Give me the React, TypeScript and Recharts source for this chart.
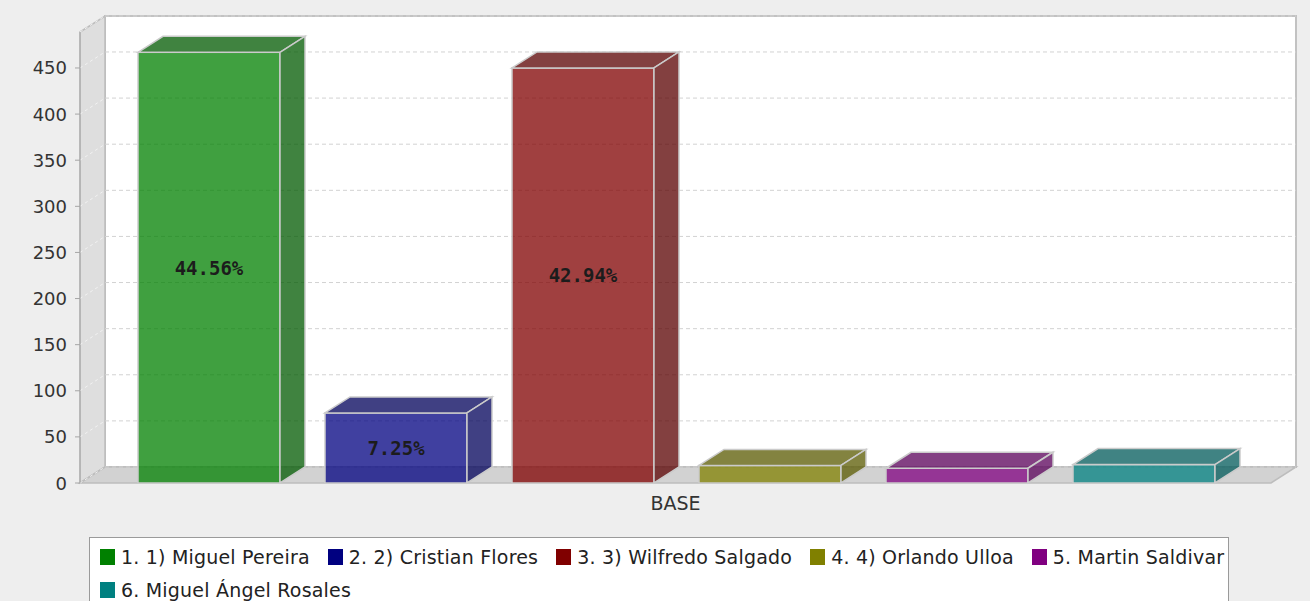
import React from "react"
import { Bar, BarChart, CartesianGrid, LabelList, XAxis, YAxis } from "recharts"

// single category, six candidates drawn as separate series
const categories = ["BASE"]
const seriesNames = [
  "1. 1) Miguel Pereira",
  "2. 2) Cristian Flores",
  "3. 3) Wilfredo Salgado",
  "4. 4) Orlando Ulloa",
  "5. Martin Saldivar",
  "6. Miguel Ángel Rosales",
]
const seriesValues = [467, 76, 450, 19, 16, 20]
const seriesColors = ["#008000", "#000080", "#800000", "#808000", "#800080", "#008080"]
const seriesDark = ["#005900", "#000059", "#590000", "#595900", "#590059", "#005959"]
const yTicks = [0, 50, 100, 150, 200, 250, 300, 350, 400, 450]
const yMax = 489

const total = seriesValues.reduce((a, b) => a + b, 0)
const data = categories.map((name) => {
  const row: Record<string, string | number> = { name }
  seriesValues.forEach((v, i) => (row[`s${i}`] = v))
  return row
})

// layout
const W = 1310
const H = 601
const PLOT_LEFT = 80
const PLOT_TOP = 32
const PLOT_RIGHT = 1271
const PLOT_BOTTOM = 483
const DX = 25
const DY = 16
const OUTLINE = "#cbcbcb"

function Bar3D(props: any) {
  const { x, y, width: w, height: h, color, dark } = props
  if (w == null || h == null) return null
  return (
    <g>
      <rect x={x} y={y} width={w} height={h} fill={color} fillOpacity={0.75} stroke={OUTLINE} strokeWidth={1.5} />
      <polygon
        points={`${x},${y} ${x + DX},${y - DY} ${x + w + DX},${y - DY} ${x + w},${y}`}
        fill={dark}
        fillOpacity={0.75}
        stroke={OUTLINE}
        strokeWidth={1.5}
      />
      <polygon
        points={`${x + w},${y} ${x + w + DX},${y - DY} ${x + w + DX},${y + h - DY} ${x + w},${y + h}`}
        fill={dark}
        fillOpacity={0.75}
        stroke={OUTLINE}
        strokeWidth={1.5}
      />
    </g>
  )
}

function PctLabel(props: any) {
  const { x, y, width, height, value } = props
  if (height < 30) return null
  const pct = ((Number(value) / total) * 100).toFixed(2) + "%"
  return (
    <text
      x={x + width / 2}
      y={y + height / 2}
      textAnchor="middle"
      dominantBaseline="central"
      fontFamily="'DejaVu Sans Mono', monospace"
      fontWeight="bold"
      fontSize={19}
      fill="#1c1c1c"
    >
      {pct}
    </text>
  )
}

function GridLine(props: any) {
  const { x1, x2, y1, index } = props
  return (
    <g key={`g-${index}`}>
      <line x1={x1} y1={y1} x2={x1 + DX} y2={y1 - DY} stroke="#f2f2f2" strokeDasharray="3 3" />
      <line x1={x1 + DX} y1={y1 - DY} x2={x2 + DX} y2={y1 - DY} stroke="#d2d2d2" strokeDasharray="4 3" />
    </g>
  )
}

function YTick(props: any) {
  const { x, y, payload } = props
  return (
    <text
      x={x}
      y={y}
      textAnchor="end"
      dominantBaseline="central"
      fontFamily="'DejaVu Sans', sans-serif"
      fontSize={18}
      fill="#333"
    >
      {payload.value}
    </text>
  )
}

function XTick(props: any) {
  const { x, y, payload } = props
  return (
    <text
      x={x}
      y={y + 6}
      dy="0.71em"
      textAnchor="middle"
      fontFamily="'DejaVu Sans', sans-serif"
      fontSize={19}
      fill="#333"
    >
      {payload.value}
    </text>
  )
}

function Walls() {
  return (
    <svg width={W} height={H} style={{ position: "absolute", left: 0, top: 0 }}>
      <rect
        x={PLOT_LEFT + DX}
        y={PLOT_TOP - DY}
        width={PLOT_RIGHT - PLOT_LEFT}
        height={PLOT_BOTTOM - PLOT_TOP}
        fill="#ffffff"
        stroke="#c2c2c2"
        strokeWidth={2}
      />
      <polygon
        points={`${PLOT_LEFT},${PLOT_TOP} ${PLOT_LEFT + DX},${PLOT_TOP - DY} ${PLOT_LEFT + DX},${PLOT_BOTTOM - DY} ${PLOT_LEFT},${PLOT_BOTTOM}`}
        fill="#dedede"
        stroke="#bdbdbd"
        strokeWidth={1.5}
      />
      <polygon
        points={`${PLOT_LEFT},${PLOT_BOTTOM} ${PLOT_LEFT + DX},${PLOT_BOTTOM - DY} ${PLOT_RIGHT + DX},${PLOT_BOTTOM - DY} ${PLOT_RIGHT},${PLOT_BOTTOM}`}
        fill="#d2d2d2"
        stroke="#bdbdbd"
        strokeWidth={1.5}
      />
    </svg>
  )
}

function LegendBox() {
  return (
    <div
      style={{
        position: "absolute",
        left: 89,
        top: 537,
        width: 1140,
        height: 80,
        background: "#fff",
        border: "1px solid #9a9a9a",
        boxSizing: "border-box",
        padding: "2px 0 0 10px",
        display: "flex",
        flexWrap: "wrap",
        alignContent: "flex-start",
        columnGap: 18,
        fontFamily: "'DejaVu Sans', sans-serif",
        fontSize: 19,
        letterSpacing: 0.2,
        color: "#222",
      }}
    >
      {seriesNames.map((n, i) => (
        <div key={n} style={{ display: "flex", alignItems: "center", height: 33 }}>
          <span
            style={{ display: "inline-block", width: 15, height: 16, background: seriesColors[i], marginRight: 6 }}
          />
          <span style={{ whiteSpace: "nowrap" }}>{n}</span>
        </div>
      ))}
    </div>
  )
}

export default function App() {
  return (
    <div
      style={{
        position: "absolute",
        left: 0,
        top: 0,
        width: W,
        height: H,
        overflow: "hidden",
        background: "#eeeeee",
      }}
    >
      <Walls />
      <div style={{ position: "absolute", left: 0, top: 0 }}>
        <BarChart
          width={W}
          height={H}
          data={data}
          margin={{ top: PLOT_TOP, right: W - PLOT_RIGHT, left: 0, bottom: H - PLOT_BOTTOM - 35 }}
          barCategoryGap={58}
          barGap={45}
        >
          <CartesianGrid horizontal={GridLine} vertical={false} />
          <XAxis dataKey="name" axisLine={false} tickLine={false} height={35} tick={XTick} />
          <YAxis
            width={PLOT_LEFT}
            domain={[0, yMax]}
            ticks={yTicks}
            interval={0}
            tickSize={5}
            tickMargin={8}
            stroke="#a6a6a6"
            tick={YTick}
          />
          {seriesNames.map((n, i) => (
            <Bar
              key={n}
              dataKey={`s${i}`}
              name={n}
              fill={seriesColors[i]}
              isAnimationActive={false}
              shape={(p: any) => <Bar3D {...p} color={seriesColors[i]} dark={seriesDark[i]} />}
            >
              <LabelList dataKey={`s${i}`} content={PctLabel} />
            </Bar>
          ))}
        </BarChart>
      </div>
      <LegendBox />
    </div>
  )
}
